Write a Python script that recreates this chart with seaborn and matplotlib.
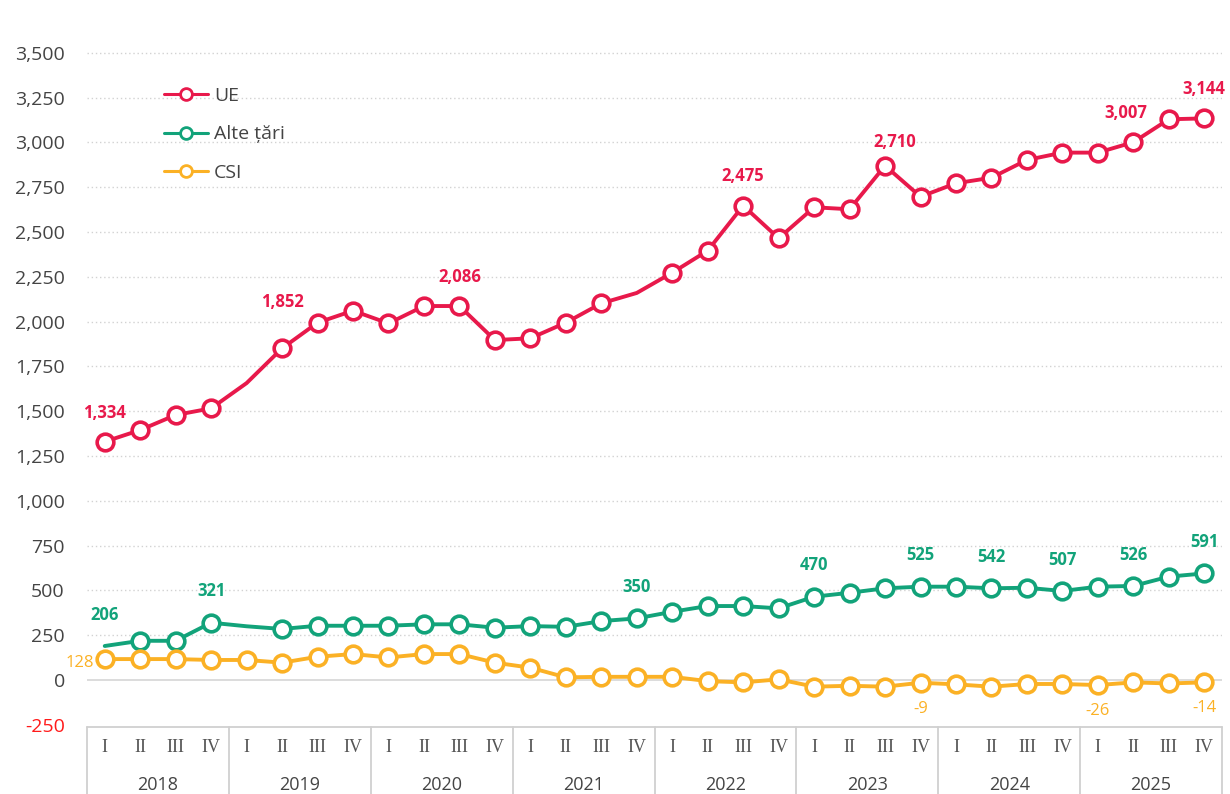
import numpy as np
import pandas as pd
import seaborn as sns
import matplotlib.pyplot as plt

years = ['2018', '2019', '2020', '2021', '2022', '2023', '2024', '2025']
quarters = ['I', 'II', 'III', 'IV']

ue = [1330, 1395, 1479, 1516, 1657, 1851, 1994, 2061,
      1990, 2087, 2087, 1897, 1907, 1994, 2102, 2160,
      2273, 2396, 2647, 2465, 2638, 2627, 2870, 2697,
      2772, 2803, 2902, 2943, 2943, 3001, 3129, 3134]
alte = [190, 219, 219, 320, 300, 285, 303, 303,
        303, 311, 311, 292, 301, 297, 329, 344,
        381, 413, 413, 400, 465, 487, 512, 521,
        521, 512, 515, 497, 521, 525, 577, 595]
csi = [117, 117, 117, 112, 112, 97, 130, 145,
       126, 145, 145, 97, 69, 15, 18, 18,
       18, -6, -13, 4, -37, -32, -37, -15,
       -24, -37, -22, -22, -28, -13, -19, -13]

# points drawn without a marker
ue_nomark = [4, 15]
alte_nomark = [0, 4]

ue_lbl_idx = [0, 5, 10, 18, 22, 29, 31]
ue_lbl_txt = ['1,334', '1,852', '2,086', '2,475', '2,710', '3,007', '3,144']
alte_lbl_idx = [0, 3, 15, 20, 23, 25, 27, 29, 31]
alte_lbl_txt = ['206', '321', '350', '470', '525', '542', '507', '526', '591']
csi_lbl_idx = [0, 23, 28, 31]
csi_lbl_txt = ['128', '-9', '-26', '-14']

RED = '#E8194B'
GREEN = '#12A37A'
YELLOW = '#FBB125'
TXT = '#444444'

sns.set_theme(style='white')
plt.rcParams['font.family'] = ['Open Sans', 'DejaVu Sans']

n = len(ue)
x = np.arange(n)

fig = plt.figure(figsize=(12.3, 7.94), dpi=100)
ax = fig.add_axes([87 / 1230, 67 / 794, 1135 / 1230, 707 / 794])
ax.set_xlim(-0.5, n - 0.5)
ax.set_ylim(-262, 3683)

yt = list(range(-250, 3501, 250))
for v in yt:
    if v == 0:
        ax.axhline(v, color='#d9d9d9', lw=1.3, zorder=0)
    elif v > 0:
        ax.axhline(v, color='#d2d2d2', lw=1.0, ls=(0, (1, 2)), zorder=0)

series = [('UE', ue, RED, ue_nomark),
          ('Alte țări', alte, GREEN, alte_nomark),
          ('CSI', csi, YELLOW, [])]
for name, vals, col, skip in series:
    me = [i for i in range(n) if i not in skip]
    sns.lineplot(x=x, y=vals, ax=ax, color=col, lw=2.8, marker='o',
                 markersize=12, markerfacecolor='white', markeredgecolor=col,
                 markeredgewidth=2.6, markevery=me, label=name, zorder=3)

ue_dy = {5: 44, 22: 23}
ue_dx = {22: 9, 29: -7}
for i, t in zip(ue_lbl_idx, ue_lbl_txt):
    ax.annotate(t, (i, ue[i]), xytext=(ue_dx.get(i, 0) * 0.75, ue_dy.get(i, 28) * 0.75),
                textcoords='offset points', ha='center', va='center',
                color=RED, fontsize=12, fontweight='bold')
for i, t in zip(alte_lbl_idx, alte_lbl_txt):
    ax.annotate(t, (i, alte[i]), xytext=(0, 30 * 0.75), textcoords='offset points',
                ha='center', va='center', color=GREEN, fontsize=12, fontweight='bold')
for i, t in zip(csi_lbl_idx, csi_lbl_txt):
    if i == 0:
        ax.annotate(t, (i, csi[i]), xytext=(-8, -3), textcoords='offset points',
                    ha='right', va='center', color=YELLOW, fontsize=12)
    else:
        ax.annotate(t, (i, csi[i]), xytext=(0, -25 * 0.75), textcoords='offset points',
                    ha='center', va='center', color=YELLOW, fontsize=12)

ax.set_yticks(yt)
ax.set_yticklabels([f'{v:,}' for v in yt], fontsize=14, color=TXT)
ax.get_yticklabels()[0].set_color('#FF1A1A')
ax.tick_params(axis='y', length=0, pad=16)
ax.set_xticks([])
for s in ax.spines.values():
    s.set_visible(False)

# category table under the plot
tr = ax.get_xaxis_transform()
ax.plot([-0.5, n - 0.5], [0, 0], transform=tr, color='#d0d0d0', lw=1.3, clip_on=False)
for b in np.arange(-0.5, n, 4):
    ax.plot([b, b], [0, -0.12], transform=tr, color='#d0d0d0', lw=1.3, clip_on=False)
for i in range(n):
    ax.text(i, -0.0297, quarters[i % 4], transform=tr, ha='center', va='center',
            fontsize=13, color='#555555', family=['Liberation Serif', 'DejaVu Serif'])
for k, yr in enumerate(years):
    ax.text(4 * k + 1.5, -0.082, yr, transform=tr, ha='center', va='center',
            fontsize=13, color=TXT)

leg = ax.legend(loc='upper left', bbox_to_anchor=(0.052, 0.93), frameon=False,
                fontsize=14, handlelength=2.3, labelspacing=1.05, handletextpad=0.3)
for h in leg.legend_handles:
    h.set_markersize(8.5)
    h.set_markeredgewidth(2)
    h.set_linewidth(2.2)
for t in leg.get_texts():
    t.set_color(TXT)

ax.set_xlabel('')
ax.set_ylabel('')
fig.savefig('out.png', dpi=100)
